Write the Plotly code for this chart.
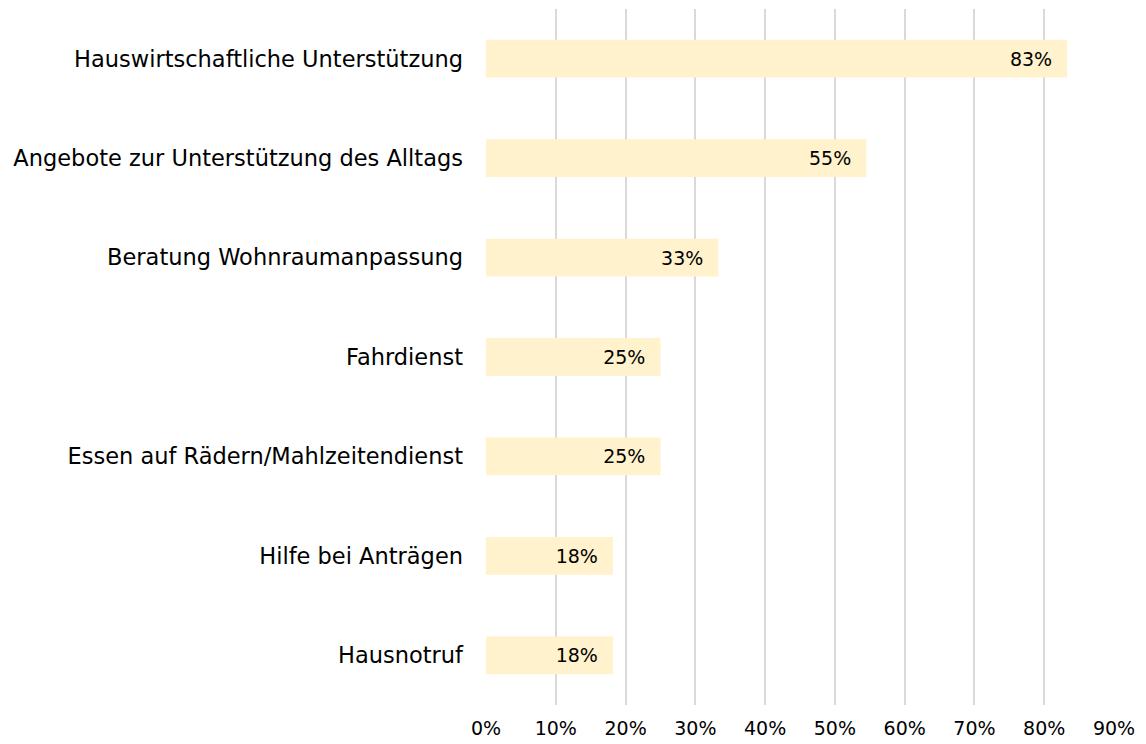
import plotly.graph_objects as go

categories = [
    "Hauswirtschaftliche Unterstützung",
    "Angebote zur Unterstützung des Alltags",
    "Beratung Wohnraumanpassung",
    "Fahrdienst",
    "Essen auf Rädern/Mahlzeitendienst",
    "Hilfe bei Anträgen",
    "Hausnotruf",
]
values = [0.833, 0.545, 0.333, 0.25, 0.25, 0.182, 0.182]
tick_vals = [i / 10 for i in range(10)]
tick_text = [f"{i*10}%" for i in range(10)]

FONT = "DejaVu Sans"

fig = go.Figure(
    go.Bar(
        y=categories,
        x=values,
        orientation="h",
        marker=dict(color="#FFF2CC", line=dict(width=0)),
        text=[f"{round(v*100)}%\u00a0\u00a0" for v in values],
        textposition="inside",
        insidetextanchor="end",
        textfont=dict(family=FONT, size=19, color="#000000"),
        constraintext="none",
        cliponaxis=False,
    )
)

fig.update_layout(
    width=1146,
    height=744,
    margin=dict(l=478, r=40, t=1, b=47, autoexpand=False),
    paper_bgcolor="white",
    plot_bgcolor="white",
    bargap=0.62,
    showlegend=False,
    font=dict(family=FONT, size=19, color="#000000"),
    xaxis=dict(
        range=[0, 0.9],
        tickvals=tick_vals,
        ticktext=tick_text,
        tickfont=dict(family=FONT, size=19, color="#000000"),
        showgrid=True,
        gridcolor="#D9D9D9",
        gridwidth=2,
        zeroline=False,
        showline=False,
        ticks="",
        ticklabelstandoff=10,
        automargin=False,
    ),
    yaxis=dict(
        categoryorder="array",
        categoryarray=categories[::-1],
        tickfont=dict(family=FONT, size=22.5, color="#000000"),
        showgrid=False,
        zeroline=False,
        showline=False,
        ticks="",
        ticklabelstandoff=22,
        automargin=False,
    ),
)

fig.write_html("out.html")
